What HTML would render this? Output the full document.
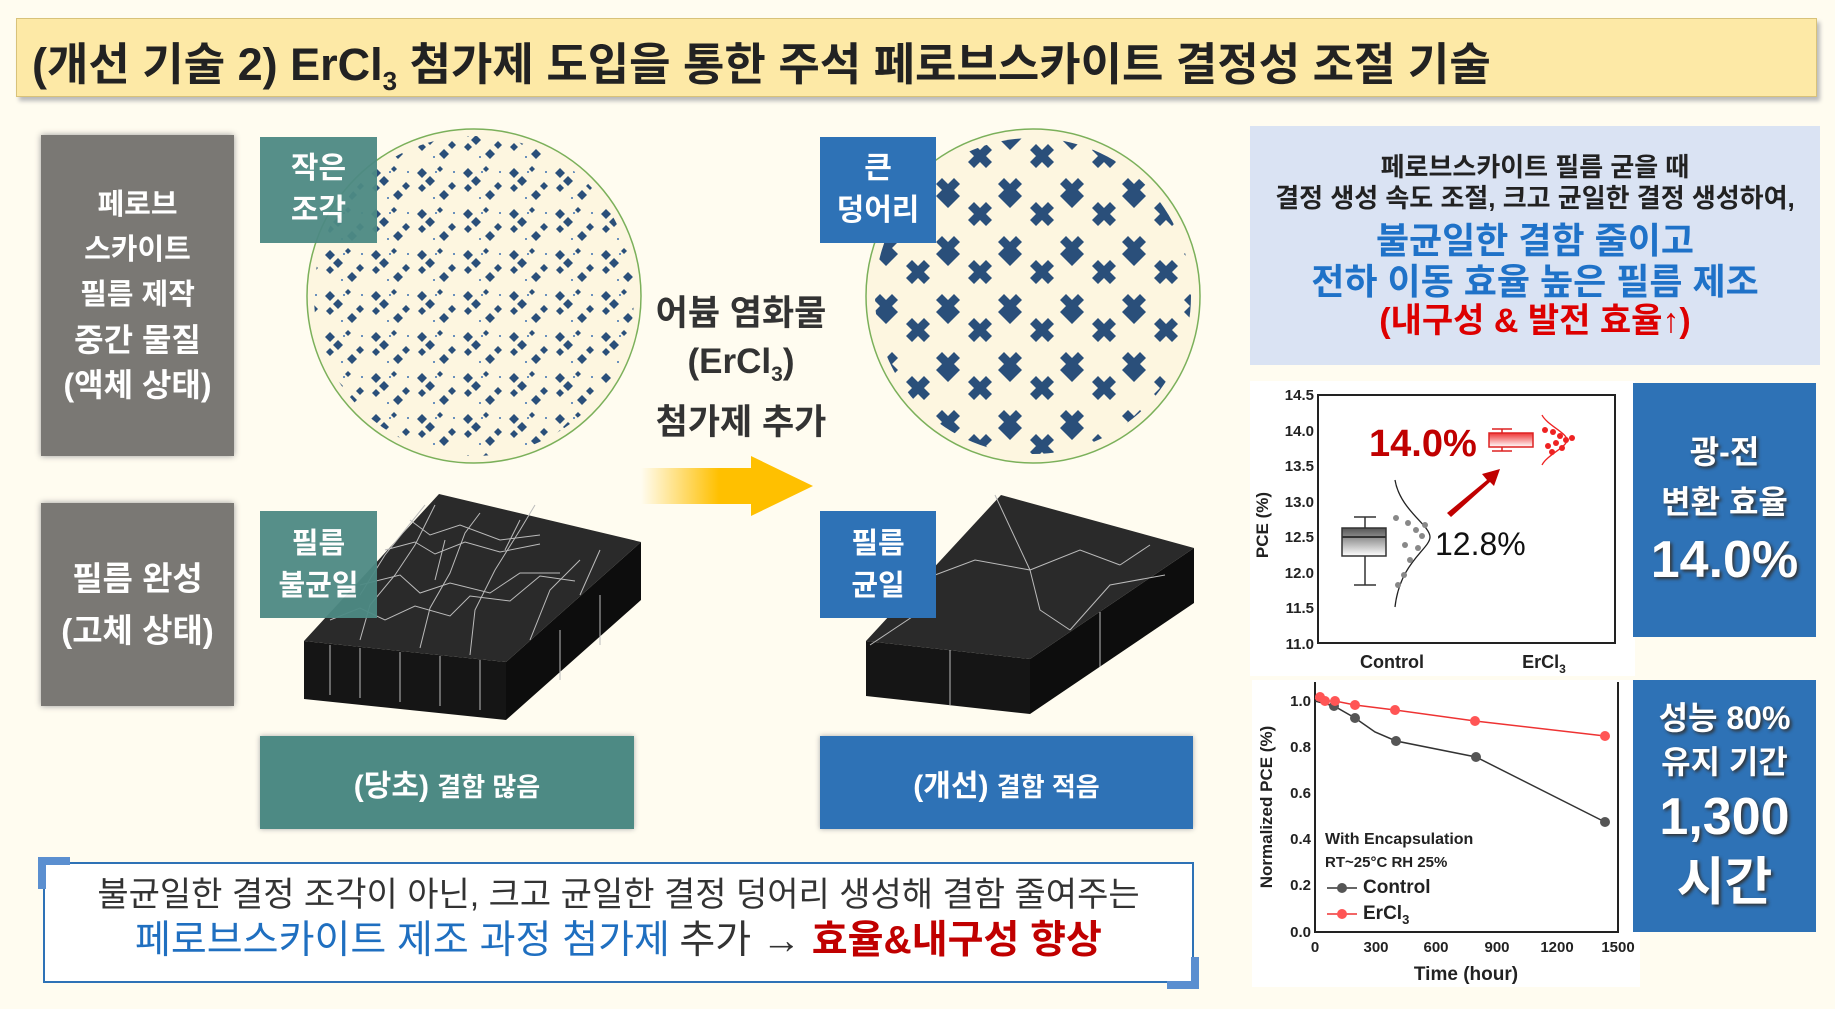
<!DOCTYPE html>
<html><head><meta charset="utf-8"><style>
*{margin:0;padding:0;box-sizing:border-box}
body{width:1835px;height:1009px;background:#fffcf0;position:relative;overflow:hidden;font-family:"Liberation Sans","Noto Sans CJK KR",sans-serif}
.a{position:absolute}
.c{display:flex;flex-direction:column;align-items:center;justify-content:center;text-align:center}
.w{color:#fff;font-weight:bold}
</style></head><body>
<div class="a" style="left:16px;top:18px;width:1801px;height:79px;background:#fde9a6;border:1px solid #d8c27a;box-shadow:3px 4px 4px #bbb"></div>
<div class="a" style="left:32px;top:28px;font-size:45px;font-weight:bold;color:#222;white-space:nowrap">(개선 기술 2) ErCl<sub style="font-size:26px">3</sub> 첨가제 도입을 통한 주석 페로브스카이트 결정성 조절 기술</div>

<div class="a c w" style="left:41px;top:135px;width:193px;height:321px;background:#7a7874;font-size:32px;line-height:45px;box-shadow:0 0 6px #999"><div style="font-size:29px">페로브<br>스카이트<br>필름 제작</div>중간 물질<br>(액체 상태)</div>
<div class="a c w" style="left:41px;top:503px;width:193px;height:203px;background:#7a7874;font-size:33px;line-height:52px;box-shadow:0 0 6px #999">필름 완성<br>(고체 상태)</div>

<svg class="a" style="left:0;top:0" width="1835" height="1009">
<defs>
<pattern id="p1" width="46" height="41" patternUnits="userSpaceOnUse">
<g fill="#2a4f7a"><path d="M8 4l5 5-5 5-5-5z"/><path d="M16 12l5 5-5 5-5-5z"/><path d="M8 20l4 4-4 4-4-4z"/><path d="M30 26l5 5-5 5-5-5z"/><path d="M38 18l4 4-4 4-4-4z"/><path d="M26 2l3 3-3 3-3-3z"/></g>
<g fill="#3a6fb0"><circle cx="22" cy="8" r="1"/><circle cx="40" cy="8" r="1"/><circle cx="20" cy="34" r="1"/></g></pattern>
<pattern id="p2" width="62" height="58" patternUnits="userSpaceOnUse">
<g fill="#2a4f7a"><path d="M6 10l6-6 6 6-6 6zM18 10l6-6 6 6-6 6zM12 16l6-6 6 6-6 6zM6 22l6-6 6 6-6 6zM18 22l6-6 6 6-6 6zM12 28l6-6 6 6-6 6z"/>
<path d="M38 34l6-6 6 6-6 6zM50 34l6-6 6 6-6 6zM44 40l6-6 6 6-6 6zM38 46l6-6 6 6-6 6zM50 46l6-6 6 6-6 6z"/></g></pattern>
<linearGradient id="ag" x1="0" x2="1"><stop offset="0" stop-color="#ffc000" stop-opacity="0"/><stop offset=".6" stop-color="#ffc000"/></linearGradient>
<linearGradient id="bg" x1="0" y1="0" x2="0" y2="1"><stop offset="0" stop-color="#555"/><stop offset="1" stop-color="#fff"/></linearGradient>
<linearGradient id="rg" x1="0" y1="0" x2="0" y2="1"><stop offset="0" stop-color="#e33"/><stop offset="1" stop-color="#fff"/></linearGradient>
</defs>
<ellipse cx="474" cy="296" rx="167" ry="167" fill="#fdf6e0" stroke="#7bb05a" stroke-width="1.5"/>
<ellipse cx="474" cy="296" rx="160" ry="160" fill="url(#p1)"/>
<ellipse cx="1033" cy="296" rx="167" ry="167" fill="#fdf6e0" stroke="#7bb05a" stroke-width="1.5"/>
<ellipse cx="1033" cy="296" rx="158" ry="158" fill="url(#p2)"/>
<rect x="641" y="468" width="130" height="36" fill="url(#ag)"/>
<path d="M751 456L813 486 751 516z" fill="#ffc000"/>
<!-- left slab -->
<path d="M304 641L506 662 506 720 304 699z" fill="#151515"/>
<path d="M506 662L641 542 641 600 506 720z" fill="#0d0d0d"/>
<path d="M439 494L641 542 506 662 304 641z" fill="#2a2a2a"/>
<g stroke="#bbb" stroke-width="1" fill="none"><path d="M330 620l30-12 25 12 30-14 35 10 20-20 40 5 30-25 35 5M360 585l40-10 20 18 30-10 40 10 30-20 40 0M385 550l30-8 20 12 30-12 35 10 40-8M410 520l20 15 30-10 40 15 40-5M425 505l-40 50-25 40M360 640l10-35 25-30 20-30 20-40M420 648l10-40 20-35 15-40 15-20M470 655l5-45 20-40 25-40 15-25M530 640l20-50 30-30M580 595l20-45M445 540l-10 40M520 520l-15 30M330 645v50M360 648v50M400 652v50M440 656v50M480 660v50M560 630v50M600 595v50"/></g>
<!-- right slab -->
<path d="M866 641L1030 659 1030 714 866 696z" fill="#151515"/>
<path d="M1030 659L1194 548 1194 603 1030 714z" fill="#0d0d0d"/>
<path d="M1001 495L1194 548 1030 659 866 641z" fill="#2a2a2a"/>
<g stroke="#bbb" stroke-width="1" fill="none"><path d="M935 575l40 -15 55 10M935 575l-20 40-45 30M1030 570l-35 -75M1030 570l50 -20 40 15M1030 570l10 40 30 20M1070 630l40 -45 55 -10M1120 565l30-20"/><path d="M950 650v55M1100 612v55"/></g>
<!-- chart 1 -->
<rect x="1250" y="381" width="385" height="295" fill="#fff"/>
<rect x="1318" y="395" width="297" height="248" fill="none" stroke="#222" stroke-width="2"/>
<g font-family="Liberation Sans" font-weight="bold" font-size="15" fill="#222" text-anchor="end">
<text x="1314" y="400">14.5</text><text x="1314" y="436">14.0</text><text x="1314" y="471">13.5</text><text x="1314" y="507">13.0</text><text x="1314" y="542">12.5</text><text x="1314" y="578">12.0</text><text x="1314" y="613">11.5</text><text x="1314" y="649">11.0</text></g>
<text transform="translate(1268,525) rotate(-90)" text-anchor="middle" font-family="Liberation Sans" font-weight="bold" font-size="17" fill="#222">PCE (%)</text>
<text x="1392" y="668" text-anchor="middle" font-family="Liberation Sans" font-weight="bold" font-size="18" fill="#222">Control</text>
<text x="1544" y="668" text-anchor="middle" font-family="Liberation Sans" font-weight="bold" font-size="18" fill="#222">ErCl<tspan font-size="12" dy="5">3</tspan></text>
<path d="M1365 517v11M1354 517h22M1365 556v29M1354 585h22" stroke="#333" stroke-width="1.5"/>
<rect x="1342" y="528" width="44" height="28" fill="url(#bg)" stroke="#333" stroke-width="1.5"/><path d="M1342 537h44" stroke="#333" stroke-width="2"/>
<path d="M1395 480c5 30 35 45 35 57s-30 25-35 70" fill="none" stroke="#222" stroke-width="1.3"/>
<g fill="#888"><circle cx="1396" cy="518" r="3"/><circle cx="1408" cy="523" r="3"/><circle cx="1416" cy="530" r="3"/><circle cx="1422" cy="536" r="3"/><circle cx="1405" cy="545" r="3"/><circle cx="1418" cy="548" r="3"/><circle cx="1410" cy="560" r="3"/><circle cx="1404" cy="575" r="3"/><circle cx="1398" cy="585" r="3"/><circle cx="1425" cy="525" r="3"/></g>
<text x="1435" y="555" font-family="Liberation Sans" font-size="32" fill="#111">12.8%</text>
<text x="1369" y="456" font-family="Liberation Sans" font-weight="bold" font-size="38" fill="#c00000">14.0%</text>
<path d="M1502 429v4M1492 429h20M1502 447v4M1492 451h20" stroke="#d22" stroke-width="1.5"/>
<rect x="1489" y="433" width="44" height="14" fill="url(#rg)" stroke="#d22" stroke-width="1.5"/>
<path d="M1542 415c5 10 25 18 25 25s-20 15-25 25" fill="none" stroke="#e22" stroke-width="1.3"/>
<g fill="#e22"><circle cx="1545" cy="430" r="3"/><circle cx="1553" cy="432" r="3"/><circle cx="1560" cy="436" r="3"/><circle cx="1566" cy="440" r="3"/><circle cx="1556" cy="443" r="3"/><circle cx="1548" cy="446" r="3"/><circle cx="1562" cy="448" r="3"/><circle cx="1552" cy="452" r="3"/><circle cx="1572" cy="438" r="3"/></g>
<path d="M1447 513L1487 480 1482 474 1500 469 1494 486 1490 482 1451 517z" fill="#c00000"/>
<!-- chart 2 -->
<rect x="1252" y="680" width="388" height="307" fill="#fff"/>
<path d="M1315 682V932H1618V682" fill="none" stroke="#222" stroke-width="2"/>
<g font-family="Liberation Sans" font-weight="bold" font-size="15" fill="#222" text-anchor="end">
<text x="1311" y="706">1.0</text><text x="1311" y="752">0.8</text><text x="1311" y="798">0.6</text><text x="1311" y="844">0.4</text><text x="1311" y="890">0.2</text><text x="1311" y="937">0.0</text></g>
<g font-family="Liberation Sans" font-weight="bold" font-size="15" fill="#222" text-anchor="middle">
<text x="1315" y="952">0</text><text x="1376" y="952">300</text><text x="1436" y="952">600</text><text x="1497" y="952">900</text><text x="1557" y="952">1200</text><text x="1618" y="952">1500</text></g>
<text x="1466" y="980" text-anchor="middle" font-family="Liberation Sans" font-weight="bold" font-size="19" fill="#222">Time (hour)</text>
<text transform="translate(1272,807) rotate(-90)" text-anchor="middle" font-family="Liberation Sans" font-weight="bold" font-size="17" fill="#222">Normalized PCE (%)</text>
<polyline points="1315,701 1334,706 1355,718 1375,732 1396,741 1476,757 1605,822" fill="none" stroke="#333" stroke-width="1.5"/>
<g fill="#555"><circle cx="1334" cy="706" r="5"/><circle cx="1355" cy="718" r="5"/><circle cx="1396" cy="741" r="5"/><circle cx="1476" cy="757" r="5"/><circle cx="1605" cy="822" r="5"/></g>
<polyline points="1315,699 1320,697 1325,701 1335,701 1355,705 1395,710 1475,721 1605,736" fill="none" stroke="#e33" stroke-width="1.5"/>
<g fill="#f55"><circle cx="1320" cy="697" r="5"/><circle cx="1325" cy="701" r="5"/><circle cx="1335" cy="701" r="5"/><circle cx="1355" cy="705" r="5"/><circle cx="1395" cy="710" r="5"/><circle cx="1475" cy="721" r="5"/><circle cx="1605" cy="736" r="5"/></g>
<g font-family="Liberation Sans" font-weight="bold" fill="#222"><text x="1325" y="844" font-size="16">With Encapsulation</text><text x="1325" y="867" font-size="15">RT~25°C RH 25%</text><text x="1363" y="893" font-size="19">Control</text><text x="1363" y="919" font-size="19">ErCl<tspan font-size="13" dy="5">3</tspan></text></g>
<path d="M1327 888h30" stroke="#333" stroke-width="1.5"/><circle cx="1342" cy="888" r="5" fill="#555"/>
<path d="M1327 914h30" stroke="#e33" stroke-width="1.5"/><circle cx="1342" cy="914" r="5" fill="#f55"/>
</svg>

<div class="a c w" style="left:260px;top:137px;width:117px;height:106px;background:#4d8a84;font-size:30px;line-height:42px;opacity:.95">작은<br>조각</div>
<div class="a c w" style="left:820px;top:137px;width:116px;height:106px;background:#2e72b6;font-size:30px;line-height:42px">큰<br>덩어리</div>
<div class="a c w" style="left:260px;top:511px;width:117px;height:107px;background:#4d8a84;font-size:29px;line-height:42px;opacity:.95">필름<br>불균일</div>
<div class="a c w" style="left:820px;top:511px;width:116px;height:107px;background:#2e72b6;font-size:29px;line-height:42px">필름<br>균일</div>
<div class="a c" style="left:631px;top:290px;width:220px;font-size:35px;line-height:48px;font-weight:bold;color:#333">어븀 염화물<br><span>(ErCl<sub style="font-size:21px">3</sub>)</span>첨가제 추가</div>

<div class="a c w" style="left:260px;top:736px;width:374px;height:93px;background:#4d8a84;font-size:30px;box-shadow:0 0 5px #aaa">
<div>(당초) <span style="font-size:26px">결함 많음</span></div></div>
<div class="a c w" style="left:820px;top:736px;width:373px;height:93px;background:#2e72b6;font-size:30px;box-shadow:0 0 5px #aaa">
<div>(개선) <span style="font-size:26px">결함 적음</span></div></div>

<div class="a" style="left:43px;top:862px;width:1151px;height:121px;background:#fff;border:2px solid #2e72b6"></div>
<div class="a" style="left:38px;top:857px;width:32px;height:8px;background:#5b8fd0"></div><div class="a" style="left:38px;top:857px;width:8px;height:32px;background:#5b8fd0"></div>
<div class="a" style="left:1167px;top:981px;width:32px;height:8px;background:#5b8fd0"></div><div class="a" style="left:1191px;top:957px;width:8px;height:32px;background:#5b8fd0"></div>
<div class="a" style="left:43px;top:872px;width:1151px;text-align:center;font-size:34px;color:#333;line-height:46px;white-space:nowrap">불균일한 결정 조각이 아닌, 크고 균일한 결정 덩어리 생성해 결함 줄여주는<br><span style="color:#1f6fc0;font-size:39px">페로브스카이트 제조 과정 첨가제</span> <span style="font-size:39px">추가 → </span><b style="color:#c00000;font-size:39px">효율&amp;내구성 향상</b></div>

<div class="a c" style="left:1250px;top:126px;width:570px;height:239px;background:#dae3f3;font-weight:bold;color:#222;white-space:nowrap">
<div style="font-size:26px;line-height:31px">페로브스카이트 필름 굳을 때<br>결정 생성 속도 조절, 크고 균일한 결정 생성하여,</div>
<div style="font-size:36px;line-height:41px;color:#1f72c8;margin-top:6px">불균일한 결함 줄이고<br>전하 이동 효율 높은 필름 제조</div>
<div style="font-size:34px;line-height:38px;color:#d00">(내구성 &amp; 발전 효율↑)</div></div>

<div class="a c w" style="left:1633px;top:383px;width:183px;height:254px;background:#2e72b6;text-shadow:2px 2px 3px #333">
<div style="font-size:32px;line-height:50px">광-전<br>변환 효율</div><div style="font-size:52px;line-height:66px">14.0%</div></div>
<div class="a c w" style="left:1633px;top:680px;width:183px;height:252px;background:#2e72b6;text-shadow:2px 2px 3px #333">
<div style="font-size:32px;line-height:44px">성능 80%<br>유지 기간</div><div style="font-size:52px;line-height:66px">1,300<br>시간</div></div>
</body></html>
